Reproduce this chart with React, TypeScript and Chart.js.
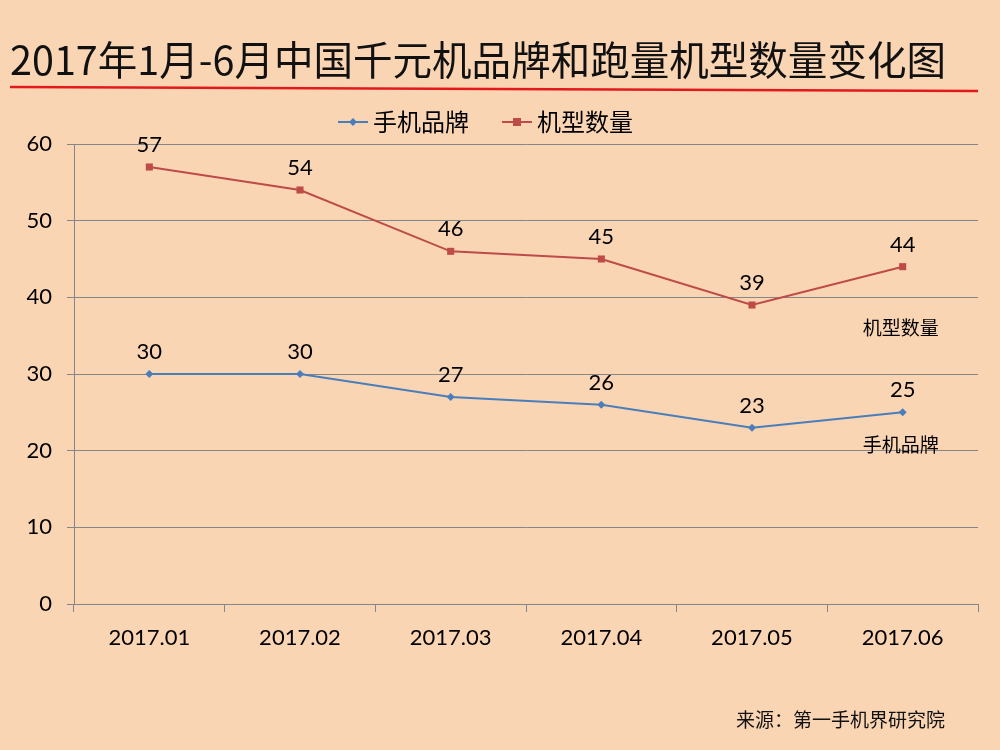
import { useEffect, useRef } from "react";
import { Chart, registerables } from "chart.js";
import type { Plugin } from "chart.js";

Chart.register(...registerables);

const months = ["2017.01", "2017.02", "2017.03", "2017.04", "2017.05", "2017.06"];
const brandCounts = [30, 30, 27, 26, 23, 25];
const modelCounts = [57, 54, 46, 45, 39, 44];
const seriesNames = ["手机品牌", "机型数量"];
const seriesColors = ["#4A7EBB", "#BE4B48"];

const titleText = "2017年1月-6月中国千元机品牌和跑量机型数量变化图";
const sourceText = "来源：第一手机界研究院";

const BG = "#FAD5B4";
const GRID = "#868686";
const FONT = "Lato, 'Noto Sans CJK SC', sans-serif";
const CJK = "'Noto Sans CJK SC', sans-serif";

// little line-with-marker picture for the legend entries
function legendIcon(color: string, square: boolean) {
  const c = document.createElement("canvas");
  c.width = 30;
  c.height = 12;
  const ctx = c.getContext("2d")!;
  ctx.strokeStyle = color;
  ctx.lineWidth = 2;
  ctx.beginPath();
  ctx.moveTo(0, 6);
  ctx.lineTo(30, 6);
  ctx.stroke();
  ctx.fillStyle = color;
  if (square) {
    ctx.fillRect(11, 2, 8, 8);
  } else {
    ctx.beginPath();
    ctx.moveTo(15, 2);
    ctx.lineTo(19, 6);
    ctx.lineTo(15, 10);
    ctx.lineTo(11, 6);
    ctx.closePath();
    ctx.fill();
  }
  return c;
}

const decorations: Plugin<"line"> = {
  id: "decorations",
  beforeDraw(chart) {
    const { ctx, width, height } = chart;
    ctx.save();
    ctx.fillStyle = BG;
    ctx.fillRect(0, 0, width, height);
    ctx.restore();
  },
  afterDraw(chart) {
    const { ctx } = chart;
    ctx.save();
    // title
    ctx.fillStyle = "#111";
    ctx.font = `40px ${CJK}`;
    ctx.textAlign = "left";
    ctx.textBaseline = "middle";
    ctx.fillText(titleText, 10, 60, 936);
    // red rule under the title
    ctx.strokeStyle = "#E31A1C";
    ctx.lineWidth = 2.5;
    ctx.beginPath();
    ctx.moveTo(10, 87);
    ctx.lineTo(978, 91);
    ctx.stroke();
    // source note
    ctx.font = `19px ${CJK}`;
    ctx.textAlign = "right";
    ctx.fillText(sourceText, 945, 720);
    ctx.restore();
  },
  afterDatasetsDraw(chart) {
    const { ctx } = chart;
    ctx.save();
    ctx.fillStyle = "#000";
    ctx.textAlign = "center";
    ctx.textBaseline = "middle";
    chart.data.datasets.forEach((ds, i) => {
      const meta = chart.getDatasetMeta(i);
      ctx.font = `22px ${FONT}`;
      meta.data.forEach((pt, j) => {
        ctx.fillText(String(ds.data[j]), pt.x, pt.y - 22);
      });
      // series name under the last point
      const last = meta.data[meta.data.length - 1];
      ctx.font = `19px ${CJK}`;
      ctx.fillText(String(ds.label), last.x - 2, last.y + (i === 0 ? 32 : 61));
    });
    ctx.restore();
  },
};

export default function App() {
  const chartRef = useRef<HTMLCanvasElement>(null);
  const chartInstance = useRef<Chart<"line"> | null>(null);

  useEffect(() => {
    document.body.style.margin = "0";
    if (!chartRef.current) return;
    if (chartInstance.current) chartInstance.current.destroy();

    const icons = [legendIcon(seriesColors[0], false), legendIcon(seriesColors[1], true)];

    chartInstance.current = new Chart(chartRef.current, {
      type: "line",
      data: {
        labels: months,
        datasets: [
          {
            label: seriesNames[0],
            data: brandCounts,
            borderColor: seriesColors[0],
            backgroundColor: seriesColors[0],
            borderWidth: 2,
            pointStyle: "rectRot",
            pointRadius: 4,
            pointBorderWidth: 0,
            tension: 0,
          },
          {
            label: seriesNames[1],
            data: modelCounts,
            borderColor: seriesColors[1],
            backgroundColor: seriesColors[1],
            borderWidth: 2,
            pointStyle: "rect",
            pointRadius: 5,
            pointBorderWidth: 0,
            tension: 0,
          },
        ],
      },
      options: {
        responsive: false,
        animation: false,
        layout: { padding: { top: 70, left: 0, right: 22, bottom: 86 } },
        plugins: {
          tooltip: { enabled: false },
          legend: {
            position: "top",
            labels: {
              color: "#111",
              font: { family: CJK, size: 24 },
              usePointStyle: true,
              pointStyleWidth: 16,
              padding: 40,
              generateLabels: (chart) =>
                chart.data.datasets.map((ds, i) => ({
                  text: String(ds.label),
                  pointStyle: icons[i],
                  fillStyle: seriesColors[i],
                  strokeStyle: seriesColors[i],
                  lineWidth: 0,
                  hidden: false,
                  datasetIndex: i,
                })),
            },
          },
        },
        scales: {
          x: {
            offset: true,
            grid: {
              display: true,
              offset: true,
              drawOnChartArea: false,
              color: GRID,
              tickLength: 8,
            },
            border: { display: true, color: GRID },
            ticks: { color: "#000", font: { family: FONT, size: 22 }, padding: 13 },
            afterFit: (scale) => {
              scale.height = 60;
            },
          },
          y: {
            min: 0,
            max: 60,
            ticks: { stepSize: 10, color: "#000", font: { family: FONT, size: 22 }, padding: 15 },
            grid: { color: GRID, tickLength: 7 },
            border: { display: true, color: GRID },
            afterFit: (scale) => {
              scale.width = 74;
            },
          },
        },
      },
      plugins: [decorations],
    });

    return () => {
      if (chartInstance.current) {
        chartInstance.current.destroy();
        chartInstance.current = null;
      }
    };
  }, []);

  return (
    <div style={{ width: 1000, height: 750, background: BG }}>
      <canvas ref={chartRef} width={1000} height={750} />
    </div>
  );
}
